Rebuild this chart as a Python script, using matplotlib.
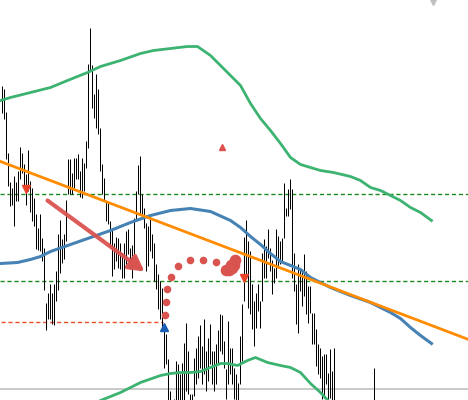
import matplotlib
matplotlib.use("Agg")
import matplotlib.pyplot as plt
import numpy as np

# price bars (screen-style scale: smaller value = higher price), one bar every 2 units from x=1
bar_top = [
    85, 88, 111, 152, 181, 187, 175, 181, 170, 146, 152, 163, 173, 149, 180, 187, 197, 213, 227, 213,
    237, 247, 302, 292, 283, 292, 283, 270, 233, 219, 238, 233, 199, 158, 158, 172, 157, 157, 153, 170,
    157, 162, 140, 63, 27, 64, 93, 73, 88, 127, 163, 177, 200, 202, 220, 227, 242, 236, 237, 242,
    252, 242, 230, 228, 247, 244, 217, 190, 164, 155, 193, 207, 222, 225, 213, 233, 242, 263, 273, 280,
    287, 330, 333, 358, 390, 402, 398, 360, 363, 373, 362, 342, 322, 350, 393, 393, 357, 347, 335, 324,
    345, 318, 350, 337, 323, 350, 350, 343, 329, 313, 314, 340, 368, 320, 347, 347, 367, 373, 382, 335,
    303, 236, 219, 240, 250, 283, 300, 292, 283, 300, 252, 238, 245, 228, 247, 259, 267, 228, 235, 240,
    237, 182, 207, 188, 178, 188, 252, 283, 263, 267, 268, 253, 270, 285, 285, 312, 312, 328, 343, 347,
    355, 353, 353, 372, 348, 370, 347,
]
bar_bot = [
    112, 118, 158, 185, 205, 204, 225, 200, 200, 178, 172, 187, 204, 190, 211, 220, 225, 248, 249, 250,
    260, 289, 329, 318, 318, 323, 324, 300, 289, 272, 262, 258, 240, 193, 193, 193, 187, 178, 178, 196,
    197, 190, 167, 147, 70, 107, 117, 127, 133, 170, 193, 200, 220, 223, 245, 275, 268, 260, 267, 268,
    277, 277, 263, 253, 268, 277, 253, 220, 193, 213, 213, 227, 270, 265, 250, 257, 280, 288, 308, 318,
    330, 367, 363, 410, 410, 420, 410, 410, 410, 410, 410, 410, 390, 393, 410, 410, 395, 383, 377, 367,
    383, 373, 390, 380, 363, 383, 390, 383, 363, 350, 353, 367, 398, 383, 373, 383, 398, 410, 410, 383,
    360, 300, 273, 307, 313, 328, 345, 327, 310, 327, 300, 277, 277, 257, 270, 293, 282, 277, 267, 263,
    262, 237, 215, 215, 208, 277, 290, 323, 332, 290, 305, 295, 313, 322, 312, 343, 343, 365, 373, 377,
    398, 397, 383, 410, 397, 410, 410,
]
last_bar = (373, 367, 410)  # x, top, bottom

# indicator lines (x, level)
upper_x = [0, 10, 30, 50, 67, 87, 100, 120, 140, 153, 170, 187, 197, 210, 220, 230, 240, 250, 260,
           270, 280, 290, 300, 310, 320, 333, 350, 360, 370, 380, 390, 400, 410, 420, 431]
upper_y = [100, 97, 92, 87, 80, 72, 66, 60, 53, 50, 48, 46, 46, 55, 65, 75, 85, 103, 118,
           130, 143, 157, 164, 167, 170, 172, 176, 180, 187, 190, 195, 200, 207, 212, 220]
lower_x = [85, 100, 120, 140, 160, 170, 180, 190, 200, 210, 220, 227, 237, 247, 255, 267, 280,
           290, 300, 310, 320, 335]
lower_y = [408, 400, 392, 382, 375, 373, 372, 372, 371, 367, 363, 363, 365, 360, 357, 362, 365,
           367, 372, 383, 392, 408]
ma_x = [0, 17, 30, 40, 50, 70, 90, 110, 130, 150, 170, 190, 210, 230, 240, 250, 260, 270, 280,
        290, 300, 310, 330, 350, 370, 390, 400, 410, 420, 431]
ma_y = [263, 262, 259, 256, 251, 244, 237, 230, 222, 215, 210, 208, 211, 220, 227, 236, 244, 253, 261,
        265, 269, 277, 287, 295, 302, 312, 318, 327, 335, 343]
trend_x = [0, 468]
trend_y = [161, 339]

green_levels = [193, 280]
red_level = 321
gray_level = 388

dots_x = [165, 166, 167, 171, 178, 190, 203, 216]
dots_y = [315, 302, 289, 277, 266, 260, 260, 262]
blob_x = [226, 229, 232, 234, 235, 231]
blob_y = [270, 270, 268, 265, 260, 265]

fig = plt.figure(figsize=(4.68, 4.0), dpi=100)
ax = fig.add_axes([0, 0, 1, 1])
ax.set_xlim(-0.5, 467.5)
ax.set_ylim(399.5, -0.5)
ax.axis("off")

for lv in green_levels:
    ax.axhline(lv, color="#1a8a1a", lw=1, ls=(0, (3, 2)), zorder=1)
ax.plot([0, 162], [red_level, red_level], color="#e8502a", lw=1, ls=(0, (3, 2)), zorder=1)
ax.axhline(gray_level, color="#c0c0c0", lw=1.2, zorder=1)

xs = 1 + 2 * np.arange(len(bar_top))
ax.vlines(xs, bar_top, bar_bot, color="black", lw=0.72, zorder=2)
ax.vlines(last_bar[0], last_bar[1], last_bar[2], color="black", lw=0.72, zorder=2)

ax.plot(upper_x, upper_y, color="#3cb371", lw=2, zorder=3)
ax.plot(lower_x, lower_y, color="#3cb371", lw=2, zorder=3)
ax.plot(ma_x, ma_y, color="#4682b4", lw=2.2, zorder=4)
ax.plot(trend_x, trend_y, color="#ff8c00", lw=2, zorder=4)

ax.annotate("", xy=(144, 271), xytext=(47, 200),
            arrowprops=dict(arrowstyle="-|>,head_length=0.9,head_width=0.5",
                            color="#d9534f", lw=3, alpha=0.95, shrinkA=0, shrinkB=0),
            zorder=5)
ax.scatter(dots_x, dots_y, s=30, color="#d9534f", edgecolors="none", zorder=5)
ax.scatter(blob_x, blob_y, s=70, color="#d9534f", edgecolors="none", zorder=5)

ax.plot(25, 188, marker="v", color="#e8442a", ms=6, zorder=6)
ax.plot(243, 277, marker="v", color="#e8442a", ms=6, zorder=6)
ax.plot(163, 326, marker="^", color="#1a5fb4", ms=6, zorder=6)
ax.plot(221, 146, marker="^", color="#e05050", ms=4, zorder=6)
ax.plot(432, 1, marker="v", color="#c0c0c0", ms=5, zorder=6)

fig.savefig("out.png", dpi=100)
